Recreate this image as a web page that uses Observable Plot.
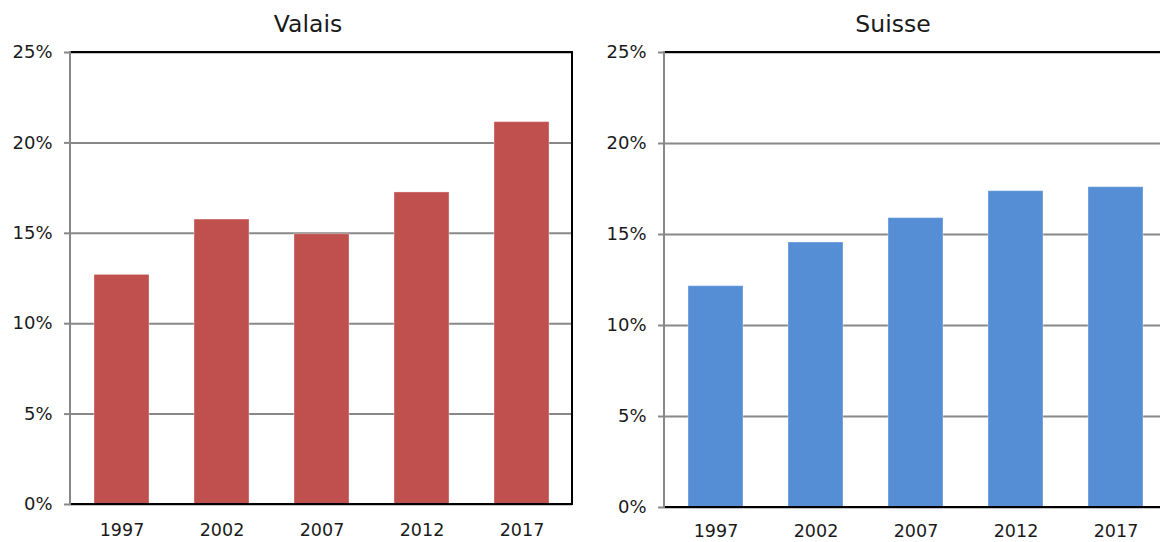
<!DOCTYPE html>
<html><head><meta charset="utf-8">
<script src="https://cdn.jsdelivr.net/npm/d3@7"></script>
<script src="https://cdn.jsdelivr.net/npm/@observablehq/plot@0.6"></script>
<style>
html,body{margin:0;padding:0;background:#fff;}
body{width:1160px;height:542px;overflow:hidden;position:relative;font-family:"DejaVu Sans",Verdana,sans-serif;}
.panel{position:absolute;top:0;height:542px;}
.title{position:absolute;top:10px;font-size:23.5px;line-height:28px;color:#1a1a1a;transform:translateX(-50%);white-space:nowrap;}
.panel svg{position:absolute;top:40px;left:0;overflow:visible;}
</style></head><body>
<script>
const years = ["1997", "2002", "2007", "2012", "2017"];
const valais = [0.127, 0.1576, 0.1495, 0.1726, 0.2115];
const suisse = [0.1216, 0.1456, 0.159, 0.1738, 0.176];
const yTicks = [0, 0.05, 0.10, 0.15, 0.20, 0.25];
const panels = [
  {title: "Valais", values: valais, color: "#C0504D", left: 0, titleX: 308, width: 580, plotWidth: 502, height: 502, marginBottom: 38, xPad: 19},
  {title: "Suisse", values: suisse, color: "#558ED5", left: 594, titleX: 299, width: 585, plotWidth: 503, height: 502, marginBottom: 35, xPad: 17}
];

function borders(index, scales, values, d) {
  const x0 = d.marginLeft, x1 = d.width - d.marginRight, y0 = d.marginTop, y1 = d.height - d.marginBottom;
  const g = d3.create("svg:g");
  g.append("path").attr("d", `M${x0},${y0}H${x1}V${y1}H${x0}`)
    .attr("fill", "none").attr("stroke", "#000").attr("stroke-width", 2);
  g.append("line").attr("x1", x0).attr("x2", x0).attr("y1", y0 - 1).attr("y2", y1 + 1)
    .attr("stroke", "#888").attr("stroke-width", 2);
  return g.node();
}

for (const p of panels) {
  const data = years.map((y, i) => ({year: y, value: p.values[i]}));
  const div = document.createElement("div");
  div.className = "panel";
  div.style.left = p.left + "px";
  div.style.width = p.width + "px";
  const t = document.createElement("div");
  t.className = "title";
  t.style.left = p.titleX + "px";
  t.textContent = p.title;
  div.appendChild(t);
  const chart = Plot.plot({
    width: p.width,
    height: p.height,
    marginTop: 12,
    marginLeft: 70,
    marginRight: p.width - 70 - p.plotWidth,
    marginBottom: p.marginBottom,
    style: {fontFamily: "'DejaVu Sans', Verdana, sans-serif", fontSize: "17px", color: "#1a1a1a", background: "transparent", overflow: "visible"},
    x: {domain: years, paddingInner: 0.45, paddingOuter: 0.225, label: null},
    y: {domain: [0, 0.25], label: null},
    marks: [
      Plot.gridY(yTicks, {stroke: "#888", strokeOpacity: 1, strokeWidth: 2}),
      Plot.barY(data, {x: "year", y: "value", fill: p.color, stroke: "#fff", strokeOpacity: 0.35, strokeWidth: 1}),
      borders,
      Plot.axisY(yTicks, {tickFormat: d3.format(".0%"), tickSize: 6, tickPadding: 12, stroke: "#888", strokeWidth: 2, fill: "#1a1a1a", fontSize: 18, label: null}),
      Plot.axisX({tickSize: 0, tickPadding: p.xPad, fill: "#1a1a1a", fontSize: 17.5, label: null})
    ]
  });
  div.appendChild(chart);
  document.body.appendChild(div);
}
</script>
</body></html>
